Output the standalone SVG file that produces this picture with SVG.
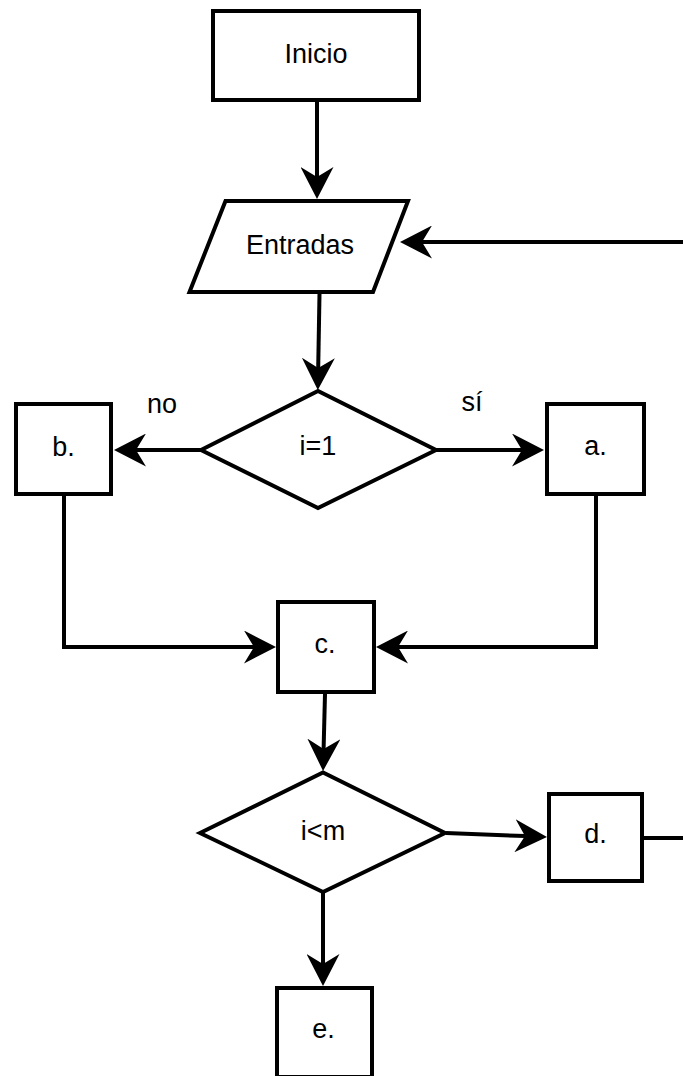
<svg xmlns="http://www.w3.org/2000/svg" width="683" height="1076" viewBox="0 0 683 1076">
<style>
.shape{fill:#fff;stroke:#000;stroke-width:4;stroke-linejoin:miter}
.conn{fill:none;stroke:#000;stroke-width:4;marker-end:url(#arr)}
.plain{fill:none;stroke:#000;stroke-width:4}
text{font-family:"Liberation Sans",Arial,sans-serif;font-size:27px;fill:#000;text-anchor:middle}
</style>
<defs>
<marker id="arr" viewBox="0 0 32 33" markerWidth="32" markerHeight="33" refX="10" refY="16.5" orient="auto" markerUnits="userSpaceOnUse">
<path d="M0,0 L32,16.5 L0,33 L10,16.5 Z" fill="#000"/>
</marker>
</defs>
<rect width="683" height="1076" fill="#fff"/>
<g id="connectors">
<path class="conn" d="M317,102 L317,177"/>
<path class="conn" d="M683,242 L422,242"/>
<path class="conn" d="M319.5,294 L318.2,368"/>
<path class="conn" d="M201,450 L136,450"/>
<path class="conn" d="M436,450 L522,450"/>
<path class="conn" d="M64,496 L64,647 L254,647"/>
<path class="conn" d="M596,496 L596,647 L398,647"/>
<path class="conn" d="M325,694 L323.6,749"/>
<path class="conn" d="M446,833 L525,836.1"/>
<path class="plain" d="M644,838 L683,838"/>
<path class="conn" d="M323,893 L323,964"/>
</g>
<g id="inicio">
<rect class="shape" x="213" y="11" width="206" height="89"/>
<text x="316" y="63">Inicio</text>
</g>
<g id="entradas">
<polygon class="shape" points="225.5,201 408,201 373,292 189.5,292"/>
<text x="300" y="254">Entradas</text>
</g>
<g id="dec1">
<polygon class="shape" points="201,450 318,391 436,450 318,508"/>
<text x="318" y="455">i=1</text>
</g>
<g id="label-no"><text x="162" y="413">no</text></g>
<g id="label-si"><text x="472" y="411">sí</text></g>
<g id="b">
<rect class="shape" x="16" y="404" width="95" height="90"/>
<text x="63.5" y="456">b.</text>
</g>
<g id="a">
<rect class="shape" x="547" y="404" width="97" height="90"/>
<text x="595.5" y="455">a.</text>
</g>
<g id="c">
<rect class="shape" x="278" y="602" width="96" height="90"/>
<text x="325" y="653">c.</text>
</g>
<g id="dec2">
<polygon class="shape" points="200,833 323,772.5 445,833 323,892"/>
<text x="323" y="840">i&lt;m</text>
</g>
<g id="d">
<rect class="shape" x="549" y="794" width="93" height="87"/>
<text x="595.5" y="843">d.</text>
</g>
<g id="e">
<rect class="shape" x="277" y="988" width="95" height="89"/>
<text x="323.5" y="1038">e.</text>
</g>
</svg>
